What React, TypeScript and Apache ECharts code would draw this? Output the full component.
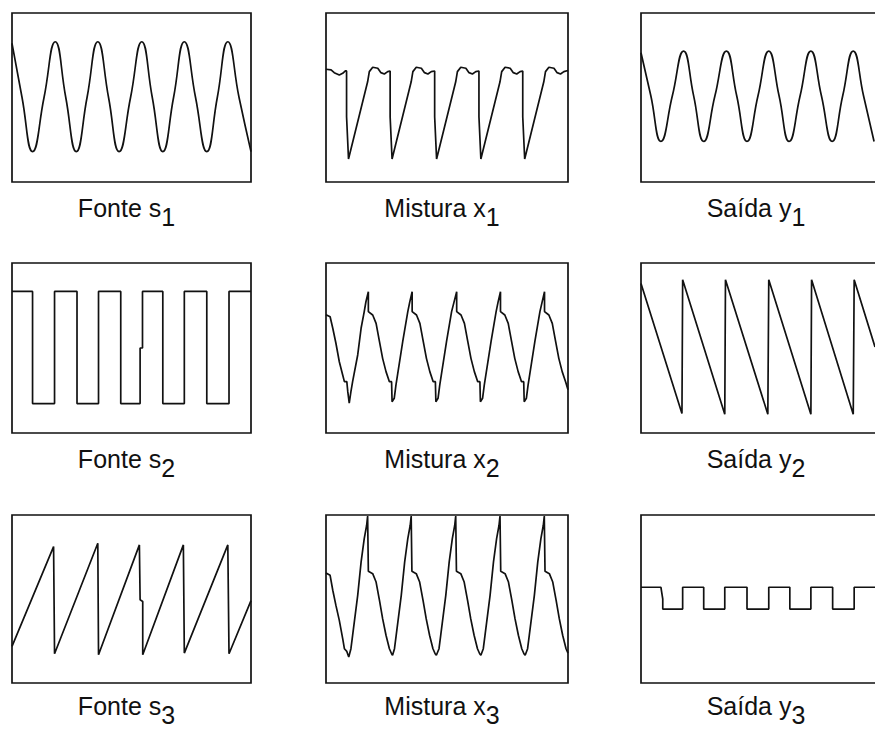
import React, { useEffect, useRef } from "react";
import * as echarts from "echarts";

type Pt = [number, number];

// Row 1
const s1: Pt[] = [[0,82],[4.2,50],[8.6,18],[13.4,50],[18.1,83],[22.5,50],[26.9,18],[31.4,50],[35.9,83],[40.4,50],[44.8,18],[49.6,50],[54.3,83],[58.7,50],[63.1,18],[67.6,50],[72.1,83],[76.8,50],[81.5,18],[85.9,50],[90.3,83],[95,50],[100,18]];

const x1: Pt[] = [[0,66.7],[2.1,66.3],[3.4,64.7],[5.5,63.3],[6.9,64.3],[8,65.7],
[8.5,65.7],[8.5,38.6],[9.3,13.6],[17.2,59.3],[17.9,65.3],[19.3,67.9],[21.4,67.3],[22.7,64.7],[24.1,63.9],[25.5,65.3],
[26.5,65.7],[26.5,38.6],[27.3,13.6],[35.2,59.3],[35.9,65.3],[37.3,67.9],[39.4,67.3],[40.7,64.7],[42.1,63.9],[43.5,65.3],
[44.9,65.7],[44.9,38.6],[45.7,13.6],[53.6,59.3],[54.3,65.3],[55.7,67.9],[57.8,67.3],[59.1,64.7],[60.5,63.9],[61.9,65.3],
[63.2,65.7],[63.2,38.6],[64,13.6],[71.9,59.3],[72.6,65.3],[74,67.9],[76.1,67.3],[77.4,64.7],[78.8,63.9],[80.2,65.3],
[81.3,65.7],[81.3,38.6],[82.1,13.6],[90,59.3],[90.7,65.3],[92.1,67.9],[94.2,67.3],[95.5,64.7],[96.9,63.9],[98.3,65.3],[100,66]];

const y1: Pt[] = [[0,76.5],[4.2,51],[8.5,24],[13.4,51],[18.2,77.5],[22.5,51],[26.8,24],[31.6,51],[36.5,77.5],[40.9,51],[45.3,24],[50,51],[54.6,77.5],[59,51],[63.3,24],[68,51],[72.6,77.5],[77.1,51],[81.7,24],[86.2,51],[90.7,77.5],[95.1,51],[99.6,24]];

// Row 2
const s2: Pt[] = [[0,83.3],[8.6,83.3],[8.6,17.3],[17.8,17.3],[17.8,83.3],[27.2,83.3],[27.2,17.3],[36.2,17.3],[36.2,83.3],[45.5,83.3],[45.5,17.3],[53.6,17.3],[53.6,50],[54.6,50],[54.6,83.3],[63.1,83.3],[63.1,17.3],[72.1,17.3],[72.1,83.3],[81.5,83.3],[81.5,17.3],[90.8,17.3],[90.8,83.3],[100,83.3]];

const x2: Pt[] = [[0,69.6],[1.7,68.4],[2.8,61.6],[4.1,52.8],[5.5,41.9],[6.9,34.1],[7.6,30.2],[8.6,30.2],[9,24.3],[9.6,17.5],[10.3,24.3],[11,30.2],[13.1,45.9],[14.5,61.6],[15.8,71.4],[16.5,77.2],[17.5,83.1],
[17.5,71.4],[19.3,69.4],[20.7,64.5],[22.1,53.7],[23.4,43.9],[24.8,36.1],[26.2,30.2],[27.1,30.2],[27.3,18.4],[28.2,20.4],[28.9,28.2],[31.7,53.7],[33.8,71.4],[34.6,77],[35.6,83.1],
[35.6,71.4],[37.4,69.4],[38.8,64.5],[40.2,53.7],[41.5,43.9],[42.9,36.1],[44.3,30.2],[45.2,30.2],[45.4,18.4],[46.3,20.4],[47,28.2],[49.8,53.7],[51.9,71.4],[52.9,77],[54,83.1],
[54,71.4],[55.8,69.4],[57.2,64.5],[58.6,53.7],[59.9,43.9],[61.3,36.1],[62.7,30.2],[63.6,30.2],[63.8,18.4],[64.7,20.4],[65.4,28.2],[68.2,53.7],[70.3,71.4],[71.1,77],[72.1,83.1],
[72.1,71.4],[73.9,69.4],[75.3,64.5],[76.7,53.7],[78,43.9],[79.4,36.1],[80.8,30.2],[81.7,30.2],[81.9,18.4],[82.8,20.4],[83.5,28.2],[86.3,53.7],[88.4,71.4],[89.3,77],[90.3,83.1],
[90.3,71.4],[92.1,69.4],[93.5,64.5],[94.9,53.7],[96.2,43.9],[97.6,36.1],[99,30.2],[100,25.5]];

const y2: Pt[] = [[0,88],[17.5,11.5],[17.8,90.2],[35.8,11],[36.1,90.2],[54.2,11],[54.6,90.2],[72.6,11],[72.9,90.2],[90.7,11],[91.1,90.2],[100,50.6]];

// Row 3
const s3: Pt[] = [[0,21.8],[17.4,81.2],[17.8,17.4],[35.9,83.2],[36.2,16.8],[53.3,82.2],[53.6,49.5],[54.7,48.5],[54.7,16.8],[71.7,82.2],[72.1,17.8],[90.3,82.2],[90.8,17.4],[100,49]];

const x3: Pt[] = [[0,65.5],[1.7,64.1],[2.8,55.2],[4.1,46.2],[5.5,37.3],[6.9,26.4],[7.6,20.4],[8.6,18.8],[9.4,15.5],[10.3,20.4],[11,28.4],[13.1,52.2],[14.5,72],[15.8,85.9],[16.8,93.9],[17.2,99.4],
[17.5,66.5],[19.3,65.1],[20.7,60.1],[22.1,49.2],[23.4,38.3],[24.8,28.4],[26.2,20.4],[27.1,17.4],[27.5,16.5],[28.3,20.4],[29,28.4],[31.1,52.2],[32.5,72],[33.8,85.9],[34.8,93.9],[35.2,99.4],
[35.5,66.5],[37.3,65.1],[38.7,60.1],[40.1,49.2],[41.4,38.3],[42.8,28.4],[44.2,20.4],[45.1,17.4],[45.6,16.5],[46.7,20.4],[47.4,28.4],[49.5,52.2],[50.9,72],[52.2,85.9],[53.2,93.9],[53.6,99.4],
[53.9,66.5],[55.7,65.1],[57.1,60.1],[58.5,49.2],[59.8,38.3],[61.2,28.4],[62.6,20.4],[63.5,17.4],[64,16.5],[65,20.4],[65.7,28.4],[67.8,52.2],[69.2,72],[70.5,85.9],[71.5,93.9],[71.9,99.4],
[72.2,66.5],[74,65.1],[75.4,60.1],[76.8,49.2],[78.1,38.3],[79.5,28.4],[80.9,20.4],[81.8,17.4],[82.3,16.5],[83.3,20.4],[84,28.4],[86.1,52.2],[87.5,72],[88.8,85.9],[89.8,93.9],[90.2,99.4],
[90.5,66.5],[92.3,65.1],[93.7,60.1],[95.1,49.2],[96.4,38.3],[97.8,28.4],[99.2,20.4],[100,17.8]];

const y3: Pt[] = [[0,57],[8.5,57],[9.3,50],[9.3,44],[17.8,44],[17.8,57],[26.8,57],[26.8,44],[35.8,44],[35.8,57],[45.3,57],[45.3,44],[54.6,44],[54.6,57],[63.6,57],[63.6,44],[72.6,44],[72.6,57],[81.9,57],[81.9,44],[91.1,44],[91.1,57],[100,57]];

const panelNames = ["Fonte s", "Mistura x", "Saída y"];
const subscripts = ["1", "2", "3"];

const signals: Pt[][][] = [
  [s1, x1, y1],
  [s2, x2, y2],
  [s3, x3, y3],
];
const smoothed: boolean[][] = [
  [true, false, true],
  [false, false, false],
  [false, false, false],
];

// layout (pixels)
const colBoxes = [
  { left: 12, width: 239 },
  { left: 326, width: 242 },
  { left: 641, width: 240 },
];
const rowBoxes = [
  { top: 13, height: 169 },
  { top: 263, height: 170 },
  { top: 515, height: 168 },
];
const labelOffsets = [25.5, 25.5, 23];
const PAGE_W = 875;

const FONT_FAMILY = '"Liberation Sans", Arial, sans-serif';
const FONT_SIZE = 25;
const INK = "#111";

function measure(text: string): number {
  try {
    const ctx = document.createElement("canvas").getContext("2d");
    if (ctx) {
      ctx.font = `${FONT_SIZE}px ${FONT_FAMILY}`;
      return ctx.measureText(text).width;
    }
  } catch (e) {}
  return text.length * FONT_SIZE * 0.55;
}

export default function App() {
  const ref = useRef<HTMLDivElement>(null);
  useEffect(() => {
    if (!ref.current) return;
    const chart = echarts.init(ref.current, undefined, { renderer: "svg" });
    const grids: any[] = [];
    const xAxes: any[] = [];
    const yAxes: any[] = [];
    const series: any[] = [];
    const graphics: any[] = [];
    let idx = 0;
    for (let r = 0; r < 3; r++) {
      for (let c = 0; c < 3; c++) {
        const cb = colBoxes[c];
        const rb = rowBoxes[r];
        const overflows = cb.left + cb.width > PAGE_W;
        grids.push({
          left: cb.left,
          top: rb.top,
          width: cb.width,
          height: rb.height,
          show: !overflows,
          borderColor: INK,
          borderWidth: 1.7,
          backgroundColor: "transparent",
          containLabel: false,
        });
        if (overflows) {
          // box whose right edge falls outside the page: draw only the visible sides
          const x0 = cb.left, y0 = rb.top, y1b = rb.top + rb.height, xr = PAGE_W + 20;
          graphics.push({
            type: "polyline",
            silent: true,
            shape: { points: [[xr, y0], [x0, y0], [x0, y1b], [xr, y1b]] },
            style: { stroke: INK, lineWidth: 1.7, fill: "none" },
          });
        }
        xAxes.push({ type: "value", gridIndex: idx, min: 0, max: 100, show: false });
        yAxes.push({ type: "value", gridIndex: idx, min: 0, max: 100, show: false });
        series.push({
          type: "line",
          xAxisIndex: idx,
          yAxisIndex: idx,
          data: signals[r][c],
          showSymbol: false,
          symbol: "none",
          smooth: smoothed[r][c] ? 0.5 : false,
          lineStyle: { color: INK, width: 1.7 },
          silent: true,
        });
        // label
        const main = panelNames[c];
        const sub = subscripts[r];
        const wm = measure(main);
        const ws = measure(sub);
        const cx = cb.left + cb.width / 2 - 5;
        const lx = cx - (wm + ws) / 2;
        const ly = rb.top + rb.height + labelOffsets[r];
        graphics.push({
          type: "text",
          x: lx,
          y: ly,
          style: {
            text: main,
            fill: INK,
            fontSize: FONT_SIZE,
            fontFamily: FONT_FAMILY,
            textAlign: "left",
            align: "left",
            textVerticalAlign: "middle",
            verticalAlign: "middle",
          },
        });
        graphics.push({
          type: "text",
          x: lx + wm,
          y: ly + 9,
          style: {
            text: sub,
            fill: INK,
            fontSize: FONT_SIZE,
            fontFamily: FONT_FAMILY,
            textAlign: "left",
            align: "left",
            textVerticalAlign: "middle",
            verticalAlign: "middle",
          },
        });
        idx++;
      }
    }
    chart.setOption({
      animation: false,
      backgroundColor: "#ffffff",
      grid: grids,
      xAxis: xAxes,
      yAxis: yAxes,
      series,
      graphic: graphics,
    });
    return () => chart.dispose();
  }, []);
  return (
    <div
      ref={ref}
      style={{ position: "absolute", left: 0, top: 0, width: PAGE_W, height: 729, background: "#fff" }}
    />
  );
}
